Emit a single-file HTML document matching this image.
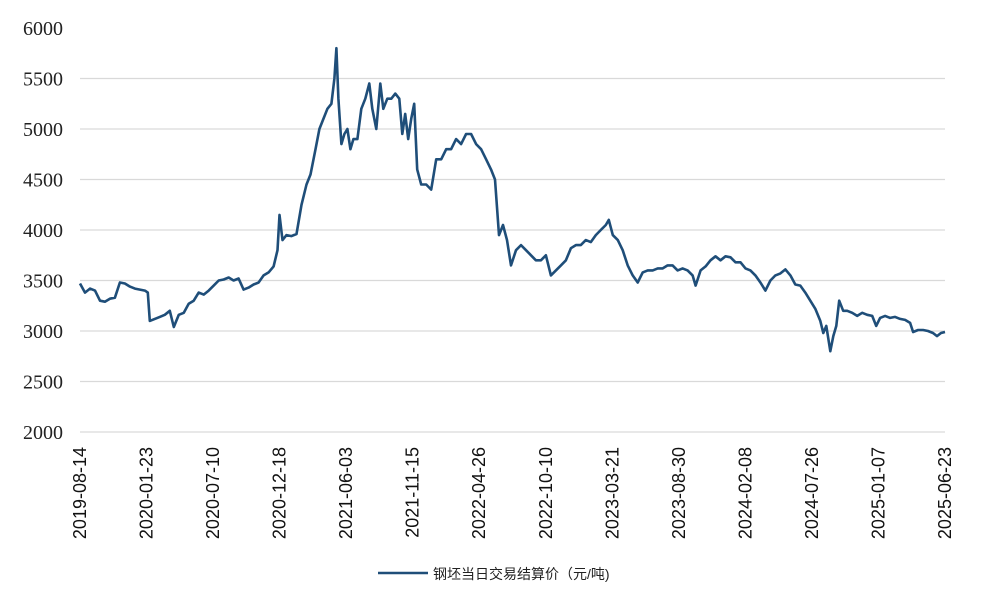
<!DOCTYPE html>
<html><head><meta charset="utf-8"><style>
html,body{margin:0;padding:0;background:#fff;}
svg{display:block;}
</style></head><body>
<svg width="994" height="597" viewBox="0 0 994 597" id="chart">
<g id="grid"></g>
<g id="yaxis"></g>
<g id="xaxis"></g>
<path id="line" fill="none" stroke="#1f4e79" stroke-width="2.6" stroke-linejoin="round"></path>
<g>
<line x1="378" y1="573" x2="428" y2="573" stroke="#1f4e79" stroke-width="2.6"/>
<text x="433" y="579" font-family="'Liberation Sans','Noto Sans CJK SC',sans-serif" font-size="14" fill="#222">钢坯当日交易结算价（元/吨)</text>
</g>
</svg>
<script>
const yTicks = [2000,2500,3000,3500,4000,4500,5000,5500,6000];
const xLabels = ["2019-08-14","2020-01-23","2020-07-10","2020-12-18","2021-06-03","2021-11-15","2022-04-26","2022-10-10","2023-03-21","2023-08-30","2024-02-08","2024-07-26","2025-01-07","2025-06-23"];
const t = [0,5,10,15,20,25,30,35,40,45,50,55,60,65,68,70,75,80,85,90,94,99,104,109,114,119,124,129,134,139,144,149,154,159,164,169,174,179,184,189,194,198,200,203,207,212,217,222,227,231,236,240,244,248,252,255,257,259,262,265,268,271,274,278,282,286,290,293,297,301,304,308,312,316,320,323,326,329,332,335,338,342,347,352,357,362,367,372,377,382,387,392,397,402,407,412,416,420,424,428,432,437,442,447,452,457,462,467,472,477,482,487,492,497,502,507,512,517,522,527,530,534,539,544,549,554,559,564,569,574,579,584,589,594,599,604,609,614,617,622,627,632,637,642,647,652,657,662,667,672,677,682,687,692,697,702,707,712,717,722,727,732,737,742,745,748,752,755,758,761,765,769,774,779,784,789,794,798,802,807,812,817,822,827,832,835,840,845,850,855,859,863,867];
const values = [3470,3380,3420,3400,3300,3290,3320,3330,3480,3470,3440,3420,3410,3400,3380,3100,3120,3140,3160,3200,3040,3160,3180,3270,3300,3380,3360,3400,3450,3500,3510,3530,3500,3520,3410,3430,3460,3480,3550,3580,3640,3800,4150,3900,3950,3940,3960,4250,4450,4550,4800,5000,5100,5200,5250,5500,5800,5300,4850,4950,5000,4800,4900,4900,5200,5300,5450,5200,5000,5450,5200,5300,5300,5350,5300,4950,5150,4900,5100,5250,4600,4450,4450,4400,4700,4700,4800,4800,4900,4850,4950,4950,4850,4800,4700,4600,4500,3950,4050,3900,3650,3800,3850,3800,3750,3700,3700,3750,3550,3600,3650,3700,3820,3850,3850,3900,3880,3950,4000,4050,4100,3950,3900,3800,3650,3550,3480,3580,3600,3600,3620,3620,3650,3650,3600,3620,3600,3550,3450,3600,3640,3700,3740,3700,3740,3730,3680,3680,3620,3600,3550,3480,3400,3500,3550,3570,3610,3550,3460,3450,3380,3300,3220,3100,2980,3050,2800,2950,3050,3300,3200,3200,3180,3150,3180,3160,3150,3050,3130,3150,3130,3140,3120,3110,3080,2990,3010,3010,3000,2980,2950,2980,2990];
const X0=80, X1=945, Y0=432, Y1=28, TMAX=867;
const xs = v => X0 + (v/TMAX)*(X1-X0);
const ys = v => Y0 - (v-2000)/4000*(Y0-Y1);
const NS="http://www.w3.org/2000/svg";
const grid=document.getElementById('grid'), yax=document.getElementById('yaxis'), xax=document.getElementById('xaxis');
yTicks.forEach(v=>{
  if(v<6000){
    const l=document.createElementNS(NS,'line');
    l.setAttribute('x1',X0);l.setAttribute('x2',X1);
    l.setAttribute('y1',ys(v));l.setAttribute('y2',ys(v));
    l.setAttribute('stroke','#d9d9d9');l.setAttribute('stroke-width','1.3');
    
    
    grid.appendChild(l);
  }
  const tx=document.createElementNS(NS,'text');
  tx.setAttribute('x',63);tx.setAttribute('y',ys(v)+7);
  tx.setAttribute('text-anchor','end');
  tx.setAttribute('font-family',"'Liberation Serif',serif");
  tx.setAttribute('font-size','20');tx.setAttribute('fill','#222');
  tx.textContent=v;
  
  
  yax.appendChild(tx);
});
xLabels.forEach((s,i)=>{
  const x=X0+i*(X1-X0)/(xLabels.length-1);
  const tx=document.createElementNS(NS,'text');
  tx.setAttribute('transform',`translate(${x+6},447) rotate(-90)`);
  tx.setAttribute('text-anchor','end');
  tx.setAttribute('font-family',"'Liberation Sans',sans-serif");
  tx.setAttribute('font-size','18');tx.setAttribute('fill','#111');
  tx.textContent=s;
  
  
  xax.appendChild(tx);
});
let d='';
values.forEach((v,i)=>{d+=(i?'L':'M')+xs(t[i]).toFixed(1)+','+ys(v).toFixed(1);});
document.getElementById('line').setAttribute('d',d);
</script>
</body></html>
